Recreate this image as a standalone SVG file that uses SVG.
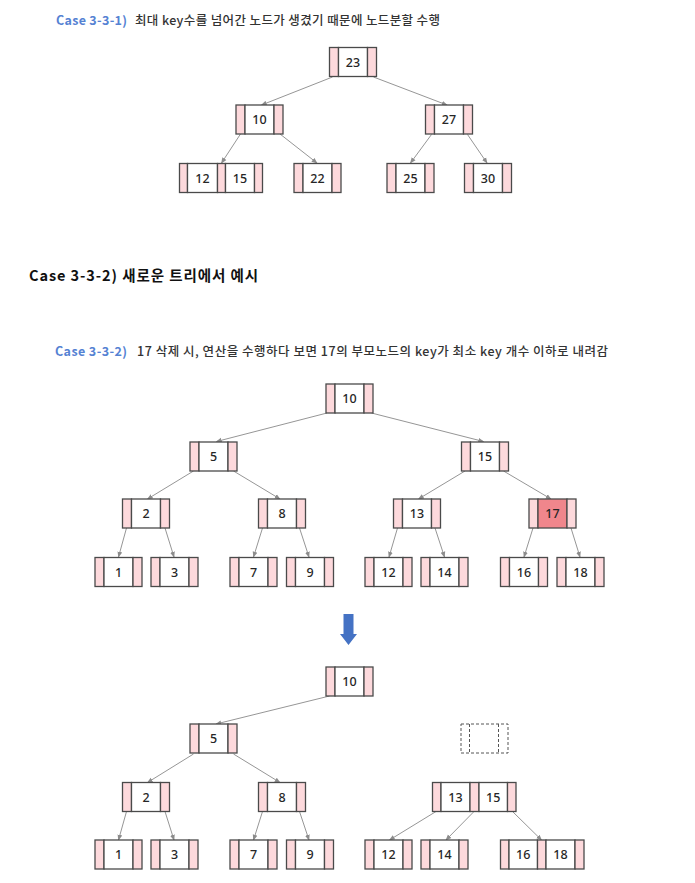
<svg xmlns="http://www.w3.org/2000/svg" width="695" height="883" viewBox="0 0 695 883">
<defs>
<marker id="ah" viewBox="0 0 8 8" refX="7" refY="4" markerWidth="6" markerHeight="6" orient="auto" markerUnits="userSpaceOnUse">
<path d="M0,0.8 L8,4 L0,7.2 z" fill="#8c8c8c"/>
</marker>
</defs>
<style>
.p{fill:#fdd9dc;stroke:#4a4a4a;stroke-width:1.3}
.w{fill:#ffffff;stroke:#4a4a4a;stroke-width:1.3}
.r{fill:#f0868c;stroke:#4a4a4a;stroke-width:1.3}
.d{fill:none;stroke:#555;stroke-width:1;stroke-dasharray:3 2}
.n{font-family:"Noto Sans","Liberation Sans",sans-serif;font-size:12.5px;fill:#262626;text-anchor:middle;font-weight:500}
.t{font-family:"Noto Sans CJK KR","Noto Sans",sans-serif;font-size:12.5px;fill:#333;font-weight:500}
.b{fill:#5582d3;font-weight:700}
.t2{font-family:"Noto Sans CJK KR","Noto Sans",sans-serif;font-size:14.5px;fill:#111;font-weight:700}
#edges line{stroke:#969696;stroke-width:1;marker-end:url(#ah)}
</style>
<rect width="695" height="883" fill="#ffffff"/>

<g id="titles">
<text class="t b" x="56" y="25" textLength="71">Case 3-3-1)</text>
<text class="t" x="135" y="25" textLength="305">최대 key수를 넘어간 노드가 생겼기 때문에 노드분할 수행</text>
<text class="t2" x="29" y="281" textLength="229">Case 3-3-2) 새로운 트리에서 예시</text>
<text class="t b" x="55" y="356" textLength="72">Case 3-3-2)</text>
<text class="t" x="137" y="356" textLength="471">17 삭제 시, 연산을 수행하다 보면 17의 부모노드의 key가 최소 key 개수 이하로 내려감</text>
</g>

<g id="edges">
<line x1="332.5" y1="77" x2="261.5" y2="105"/>
<line x1="373.5" y1="77" x2="447" y2="105"/>
<line x1="240.5" y1="134" x2="221.5" y2="163"/>
<line x1="280" y1="134" x2="317" y2="163"/>
<line x1="431.5" y1="134.5" x2="410.5" y2="163"/>
<line x1="467.5" y1="134.5" x2="487" y2="163"/>

<line x1="327" y1="413" x2="216.5" y2="441.5"/>
<line x1="371.5" y1="413" x2="483.5" y2="441.5"/>
<line x1="193.5" y1="471" x2="147.5" y2="499"/>
<line x1="233.5" y1="471" x2="280" y2="499"/>
<line x1="126.5" y1="528" x2="118.5" y2="557"/>
<line x1="165" y1="528" x2="174" y2="557"/>
<line x1="262.5" y1="528" x2="253.5" y2="557"/>
<line x1="299.5" y1="528" x2="309" y2="557"/>
<line x1="465" y1="471" x2="418.5" y2="499"/>
<line x1="503.5" y1="471" x2="551" y2="499"/>
<line x1="397.5" y1="528" x2="389" y2="557"/>
<line x1="435" y1="528" x2="444.5" y2="557"/>
<line x1="533" y1="528" x2="524" y2="557"/>
<line x1="571" y1="528" x2="580" y2="557"/>

<line x1="329.5" y1="696" x2="216" y2="724"/>
<line x1="193.5" y1="754" x2="147.5" y2="782.5"/>
<line x1="233.5" y1="754" x2="280" y2="782.5"/>
<line x1="126.5" y1="811.5" x2="118.5" y2="840"/>
<line x1="165" y1="811.5" x2="174" y2="840"/>
<line x1="262.5" y1="811.5" x2="253.5" y2="840"/>
<line x1="299.5" y1="811.5" x2="309" y2="840"/>
<line x1="436" y1="811.5" x2="389.5" y2="840"/>
<line x1="474" y1="811.5" x2="446" y2="840"/>
<line x1="512.5" y1="811.5" x2="541.5" y2="840"/>
</g>

<!-- top tree -->
<g id="n23" transform="translate(329.5,47.5)"><rect class="p" width="9" height="29"/><rect class="w" x="9" width="29" height="29"/><rect class="p" x="38" width="9" height="29"/><text class="n" x="23.5" y="19">23</text></g>
<g id="n10a" transform="translate(236,105)"><rect class="p" width="9" height="29"/><rect class="w" x="9" width="29" height="29"/><rect class="p" x="38" width="9" height="29"/><text class="n" x="23.5" y="19">10</text></g>
<g id="n27" transform="translate(425.5,105)"><rect class="p" width="9" height="29"/><rect class="w" x="9" width="29" height="29"/><rect class="p" x="38" width="9" height="29"/><text class="n" x="23.5" y="19">27</text></g>
<g id="n12_15a" transform="translate(179.5,163.5)"><rect class="p" width="8" height="29"/><rect class="w" x="8" width="30" height="29"/><rect class="p" x="38" width="8" height="29"/><rect class="w" x="46" width="29" height="29"/><rect class="p" x="75" width="8" height="29"/><text class="n" x="23" y="19">12</text><text class="n" x="60.5" y="19">15</text></g>
<g id="n22" transform="translate(294,163.5)"><rect class="p" width="9" height="29"/><rect class="w" x="9" width="29" height="29"/><rect class="p" x="38" width="9" height="29"/><text class="n" x="23.5" y="19">22</text></g>
<g id="n25" transform="translate(387,163.5)"><rect class="p" width="9" height="29"/><rect class="w" x="9" width="29" height="29"/><rect class="p" x="38" width="9" height="29"/><text class="n" x="23.5" y="19">25</text></g>
<g id="n30" transform="translate(464.5,163.5)"><rect class="p" width="9" height="29"/><rect class="w" x="9" width="29" height="29"/><rect class="p" x="38" width="9" height="29"/><text class="n" x="23.5" y="19">30</text></g>

<!-- middle tree -->
<g id="m10" transform="translate(326,384)"><rect class="p" width="9" height="29"/><rect class="w" x="9" width="29" height="29"/><rect class="p" x="38" width="9" height="29"/><text class="n" x="23.5" y="19">10</text></g>
<g id="m5" transform="translate(190,442)"><rect class="p" width="9" height="29"/><rect class="w" x="9" width="29" height="29"/><rect class="p" x="38" width="9" height="29"/><text class="n" x="23.5" y="19">5</text></g>
<g id="m15" transform="translate(461.5,442)"><rect class="p" width="9" height="29"/><rect class="w" x="9" width="29" height="29"/><rect class="p" x="38" width="9" height="29"/><text class="n" x="23.5" y="19">15</text></g>
<g id="m2" transform="translate(122.5,499)"><rect class="p" width="9" height="29"/><rect class="w" x="9" width="29" height="29"/><rect class="p" x="38" width="9" height="29"/><text class="n" x="23.5" y="19">2</text></g>
<g id="m8" transform="translate(258.5,499)"><rect class="p" width="9" height="29"/><rect class="w" x="9" width="29" height="29"/><rect class="p" x="38" width="9" height="29"/><text class="n" x="23.5" y="19">8</text></g>
<g id="m13" transform="translate(393.5,499)"><rect class="p" width="9" height="29"/><rect class="w" x="9" width="29" height="29"/><rect class="p" x="38" width="9" height="29"/><text class="n" x="23.5" y="19">13</text></g>
<g id="m17" transform="translate(529,499)"><rect class="p" width="9" height="29"/><rect class="r" x="9" width="29" height="29"/><rect class="p" x="38" width="9" height="29"/><text class="n" x="23.5" y="19">17</text></g>
<g id="m1" transform="translate(95,557.5)"><rect class="p" width="9" height="29"/><rect class="w" x="9" width="29" height="29"/><rect class="p" x="38" width="9" height="29"/><text class="n" x="23.5" y="19">1</text></g>
<g id="m3" transform="translate(151,557.5)"><rect class="p" width="9" height="29"/><rect class="w" x="9" width="29" height="29"/><rect class="p" x="38" width="9" height="29"/><text class="n" x="23.5" y="19">3</text></g>
<g id="m7" transform="translate(230,557.5)"><rect class="p" width="9" height="29"/><rect class="w" x="9" width="29" height="29"/><rect class="p" x="38" width="9" height="29"/><text class="n" x="23.5" y="19">7</text></g>
<g id="m9" transform="translate(286.5,557.5)"><rect class="p" width="9" height="29"/><rect class="w" x="9" width="29" height="29"/><rect class="p" x="38" width="9" height="29"/><text class="n" x="23.5" y="19">9</text></g>
<g id="m12" transform="translate(365,557.5)"><rect class="p" width="9" height="29"/><rect class="w" x="9" width="29" height="29"/><rect class="p" x="38" width="9" height="29"/><text class="n" x="23.5" y="19">12</text></g>
<g id="m14" transform="translate(421,557.5)"><rect class="p" width="9" height="29"/><rect class="w" x="9" width="29" height="29"/><rect class="p" x="38" width="9" height="29"/><text class="n" x="23.5" y="19">14</text></g>
<g id="m16" transform="translate(500.5,557.5)"><rect class="p" width="9" height="29"/><rect class="w" x="9" width="29" height="29"/><rect class="p" x="38" width="9" height="29"/><text class="n" x="23.5" y="19">16</text></g>
<g id="m18" transform="translate(557,557.5)"><rect class="p" width="9" height="29"/><rect class="w" x="9" width="29" height="29"/><rect class="p" x="38" width="9" height="29"/><text class="n" x="23.5" y="19">18</text></g>

<!-- big arrow -->
<g id="downArrow"><path d="M343.5,614 H353.5 V634 H357 L348.5,645 L340,634 H343.5 Z" fill="#4472c4"/></g>

<!-- bottom tree -->
<g id="b10" transform="translate(326,667)"><rect class="p" width="9" height="29"/><rect class="w" x="9" width="29" height="29"/><rect class="p" x="38" width="9" height="29"/><text class="n" x="23.5" y="19">10</text></g>
<g id="b5" transform="translate(190,724)"><rect class="p" width="9" height="29"/><rect class="w" x="9" width="29" height="29"/><rect class="p" x="38" width="9" height="29"/><text class="n" x="23.5" y="19">5</text></g>
<g id="bEmpty" transform="translate(461,724)"><rect class="d" width="47" height="29"/><line class="d" x1="8.5" y1="0" x2="8.5" y2="29"/><line class="d" x1="37.5" y1="0" x2="37.5" y2="29"/></g>
<g id="b2" transform="translate(122.5,782.5)"><rect class="p" width="9" height="29"/><rect class="w" x="9" width="29" height="29"/><rect class="p" x="38" width="9" height="29"/><text class="n" x="23.5" y="19">2</text></g>
<g id="b8" transform="translate(258.5,782.5)"><rect class="p" width="9" height="29"/><rect class="w" x="9" width="29" height="29"/><rect class="p" x="38" width="9" height="29"/><text class="n" x="23.5" y="19">8</text></g>
<g id="b13_15" transform="translate(432.5,782.5)"><rect class="p" width="8.5" height="29"/><rect class="w" x="8.5" width="29" height="29"/><rect class="p" x="37.5" width="9" height="29"/><rect class="w" x="46.5" width="28.5" height="29"/><rect class="p" x="75" width="8.5" height="29"/><text class="n" x="23" y="19">13</text><text class="n" x="60.75" y="19">15</text></g>
<g id="b1" transform="translate(95,840)"><rect class="p" width="9" height="29"/><rect class="w" x="9" width="29" height="29"/><rect class="p" x="38" width="9" height="29"/><text class="n" x="23.5" y="19">1</text></g>
<g id="b3" transform="translate(151,840)"><rect class="p" width="9" height="29"/><rect class="w" x="9" width="29" height="29"/><rect class="p" x="38" width="9" height="29"/><text class="n" x="23.5" y="19">3</text></g>
<g id="b7" transform="translate(230,840)"><rect class="p" width="9" height="29"/><rect class="w" x="9" width="29" height="29"/><rect class="p" x="38" width="9" height="29"/><text class="n" x="23.5" y="19">7</text></g>
<g id="b9" transform="translate(286.5,840)"><rect class="p" width="9" height="29"/><rect class="w" x="9" width="29" height="29"/><rect class="p" x="38" width="9" height="29"/><text class="n" x="23.5" y="19">9</text></g>
<g id="b12" transform="translate(365,840)"><rect class="p" width="9" height="29"/><rect class="w" x="9" width="29" height="29"/><rect class="p" x="38" width="9" height="29"/><text class="n" x="23.5" y="19">12</text></g>
<g id="b14" transform="translate(421,840)"><rect class="p" width="9" height="29"/><rect class="w" x="9" width="29" height="29"/><rect class="p" x="38" width="9" height="29"/><text class="n" x="23.5" y="19">14</text></g>
<g id="b16_18" transform="translate(500.5,840)"><rect class="p" width="8.5" height="29"/><rect class="w" x="8.5" width="28.5" height="29"/><rect class="p" x="37" width="8.5" height="29"/><rect class="w" x="45.5" width="29" height="29"/><rect class="p" x="74.5" width="9" height="29"/><text class="n" x="22.75" y="19">16</text><text class="n" x="60" y="19">18</text></g>
</svg>
